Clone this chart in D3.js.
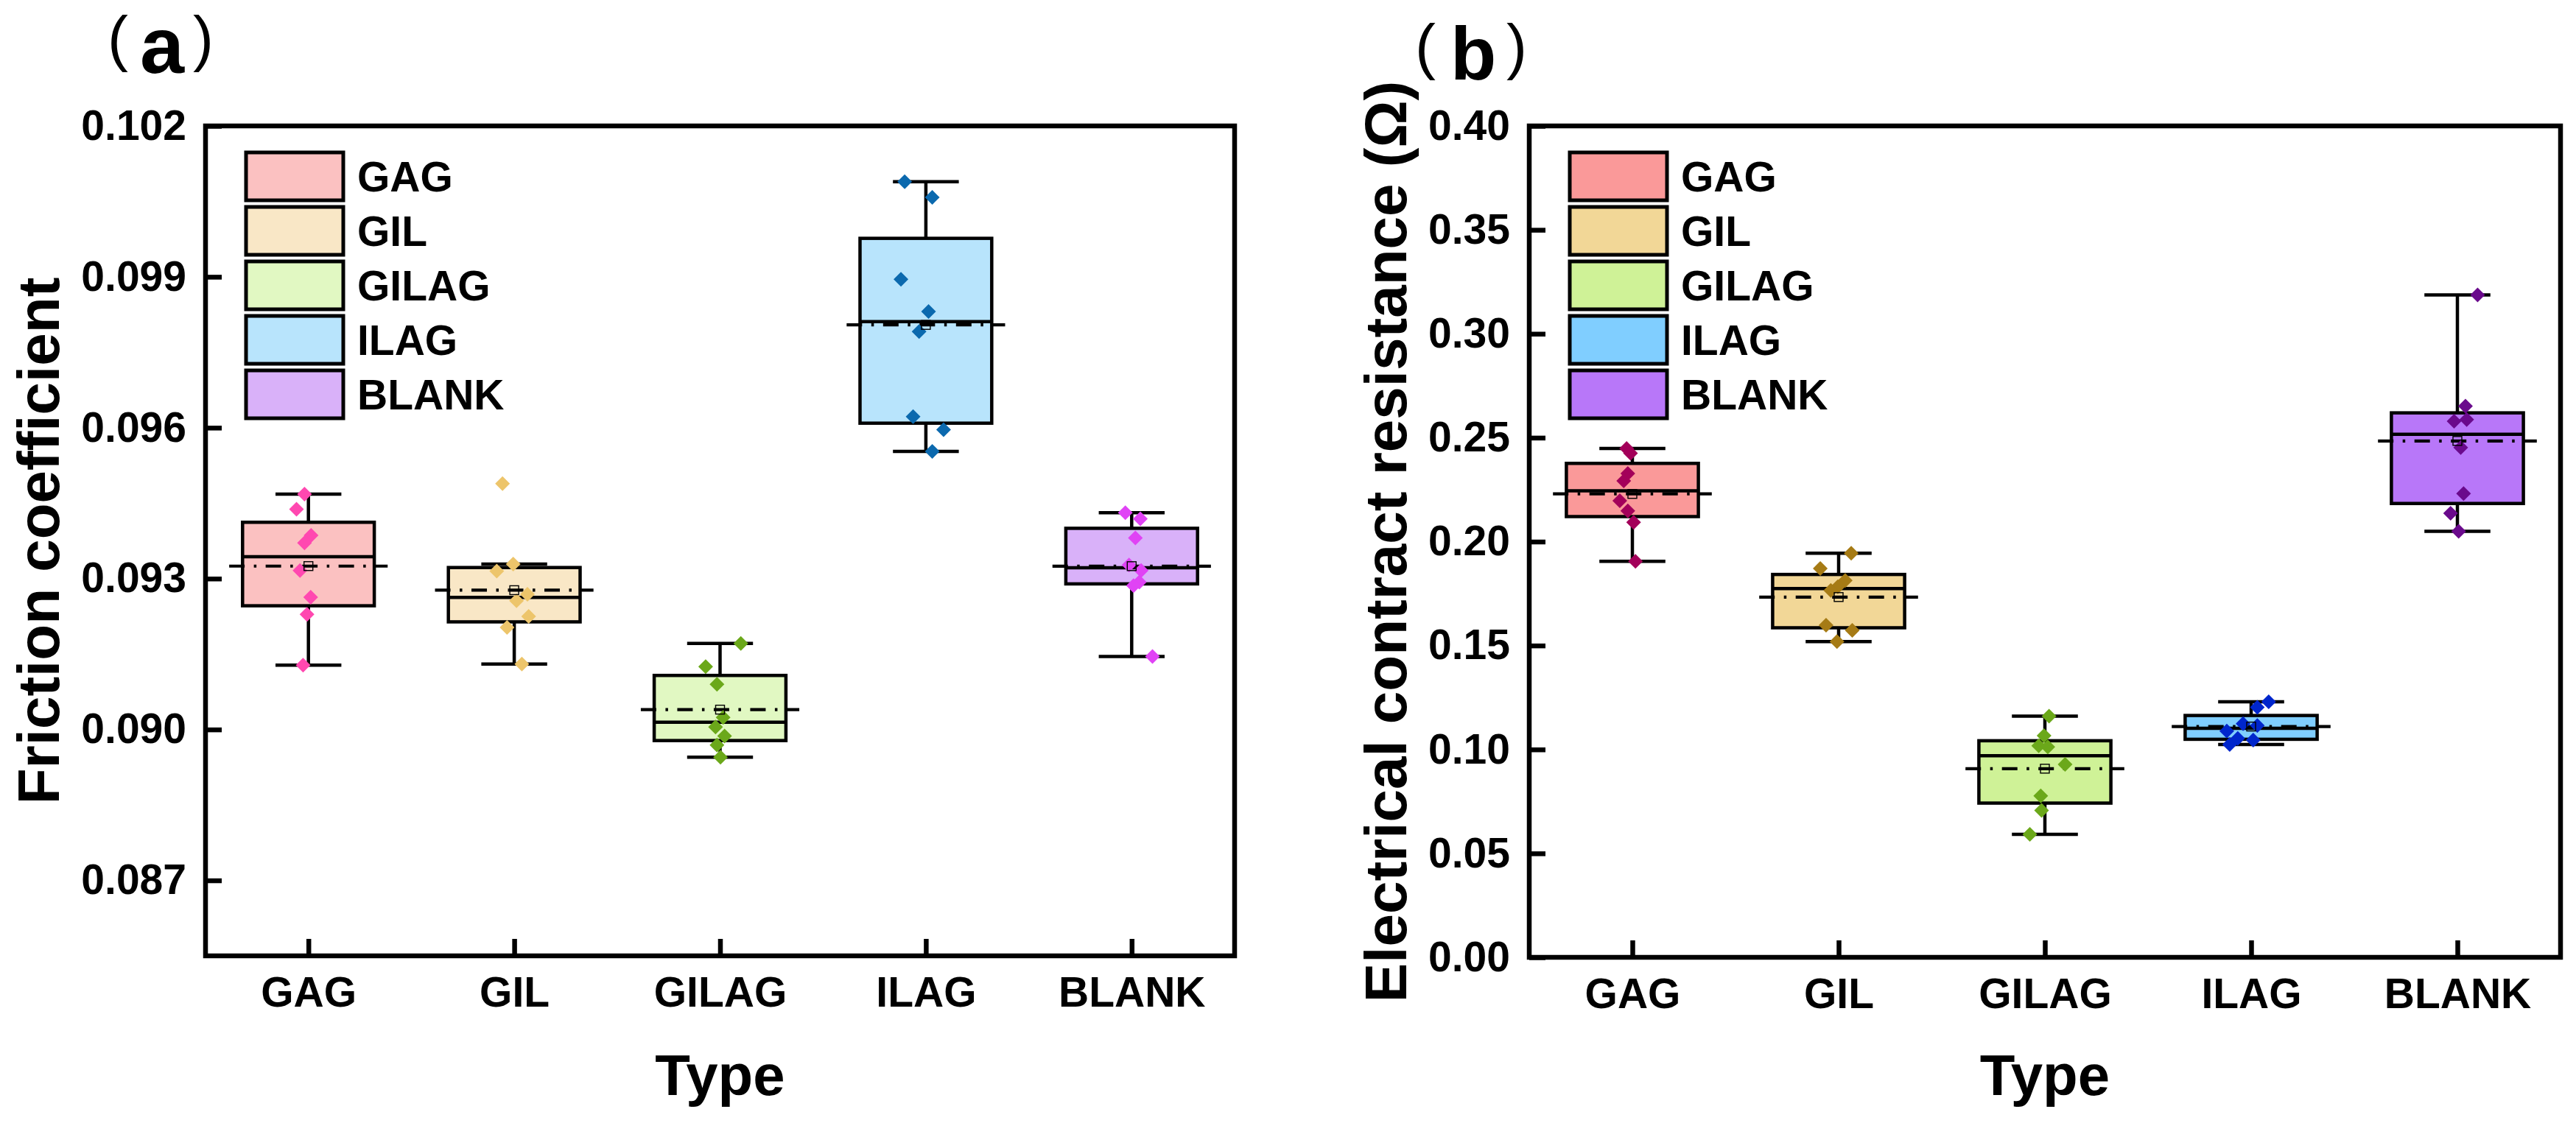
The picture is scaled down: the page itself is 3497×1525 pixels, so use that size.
<!DOCTYPE html>
<html>
<head>
<meta charset="utf-8">
<script src="https://cdn.jsdelivr.net/npm/d3@7"></script>
<style>
  html, body { margin: 0; padding: 0; background: #ffffff; }
  svg { display: block; }
</style>
</head>
<body>
<svg id="chart" width="3497" height="1525"></svg>
<script>
// ---------------- data ----------------
const categories = ["GAG", "GIL", "GILAG", "ILAG", "BLANK"];

// Friction coefficient, 8 measurements per type
const frictionValues = [
  [0.09468, 0.09438, 0.09386, 0.09371, 0.09316, 0.09263, 0.09229, 0.09128],
  [0.09489, 0.09329, 0.09315, 0.09269, 0.09256, 0.09225, 0.09203, 0.09130],
  [0.09171, 0.09125, 0.09090, 0.09024, 0.09005, 0.08987, 0.08969, 0.08945],
  [0.10089, 0.10058, 0.09895, 0.09831, 0.09791, 0.09622, 0.09596, 0.09553],
  [0.09431, 0.09419, 0.09381, 0.09327, 0.09316, 0.09293, 0.09286, 0.09145]
];
// horizontal scatter of each point (in category units)
const frictionJitter = [
  [-0.019, -0.058, 0.013, -0.019, -0.041, 0.011, -0.007, -0.026],
  [-0.057, -0.005, -0.085, 0.064, 0.011, 0.070, -0.035, 0.037],
  [0.101, -0.070, -0.015, 0.015, -0.022, 0.022, -0.015, 0.002],
  [-0.103, 0.031, -0.121, 0.013, -0.033, -0.062, 0.086, 0.031],
  [-0.031, 0.042, 0.018, -0.013, 0.046, 0.037, 0.009, 0.101]
];
const frictionTicks = [0.087, 0.090, 0.093, 0.096, 0.099, 0.102];
const frictionTickLabels = ["0.087", "0.090", "0.093", "0.096", "0.099", "0.102"];
const frictionDomain = [0.0855, 0.102];

// Electrical contact resistance (Ohm)
const resistanceValues = [
  [0.2448, 0.2425, 0.2328, 0.2292, 0.2197, 0.2148, 0.2093, 0.1905],
  [0.1944, 0.1871, 0.1813, 0.1783, 0.1765, 0.1598, 0.1573, 0.1519],
  [0.1160, 0.1066, 0.1018, 0.1012, 0.0928, 0.0777, 0.0707, 0.0592],
  [0.1229, 0.1203, 0.1124, 0.1115, 0.1089, 0.1053, 0.1045, 0.1024],
  [0.3187, 0.2652, 0.2587, 0.2579, 0.2453, 0.2231, 0.2136, 0.2050]
];
const resistanceJitter = [
  [-0.028, -0.009, -0.022, -0.042, -0.061, -0.022, 0.006, 0.015],
  [0.061, -0.089, 0.032, -0.004, -0.038, -0.061, 0.066, -0.008],
  [0.020, -0.004, -0.030, 0.014, 0.098, -0.020, -0.016, -0.073],
  [0.085, 0.030, -0.039, 0.030, -0.118, -0.065, 0.010, -0.104],
  [0.098, 0.039, 0.045, -0.016, 0.016, 0.030, -0.033, 0.006]
];
const resistanceTicks = [0.00, 0.05, 0.10, 0.15, 0.20, 0.25, 0.30, 0.35, 0.40];
const resistanceTickLabels = ["0.00", "0.05", "0.10", "0.15", "0.20", "0.25", "0.30", "0.35", "0.40"];
const resistanceDomain = [0, 0.40];

// colours
const frictionFill  = ["#FBC1C1", "#F9E7C6", "#E1F8C2", "#B8E4FC", "#D9B1F9"];
const frictionPoint = ["#FF48B0", "#EDC56B", "#6BA81A", "#0B69AE", "#E043F5"];
const resistanceFill  = ["#FA9999", "#F2D797", "#CFF297", "#80CEFF", "#B877F9"];
const resistancePoint = ["#A3005A", "#A67B15", "#6BA81A", "#0026CC", "#6A0A8C"];

// ---------------- helpers ----------------
const FONT = "'Liberation Sans', Arial, Helvetica, sans-serif";

function quantileR5(sorted, p) {
  const n = sorted.length;
  let h = n * p + 0.5;
  if (h <= 1) return sorted[0];
  if (h >= n) return sorted[n - 1];
  const lo = Math.floor(h);
  return sorted[lo - 1] + (h - lo) * (sorted[lo] - sorted[lo - 1]);
}
function boxStats(vals) {
  const s = vals.slice().sort((a, b) => a - b);
  const q1 = quantileR5(s, 0.25), med = quantileR5(s, 0.5), q3 = quantileR5(s, 0.75);
  const iqr = q3 - q1;
  const lf = q1 - 1.5 * iqr, uf = q3 + 1.5 * iqr;
  const inside = s.filter(v => v >= lf && v <= uf);
  return { q1, med, q3, lo: d3.min(inside), hi: d3.max(inside), mean: d3.mean(s) };
}

const svg = d3.select("#chart");

function drawPanel(cfg) {
  const g = svg.append("g");
  const x = d3.scalePoint().domain(categories).range([cfg.left, cfg.right]).padding(0.5);
  const step = x.step();
  const y = d3.scaleLinear().domain(cfg.domain).range([cfg.bottom, cfg.top]);

  const boxW = step * 0.64, capW = step * 0.32, meanW = step * 0.77;

  categories.forEach((c, i) => {
    const st = boxStats(cfg.values[i]);
    const cx = x(c);
    const bg = g.append("g");
    // whiskers
    bg.append("line").attr("x1", cx).attr("x2", cx).attr("y1", y(st.q3)).attr("y2", y(st.hi))
      .attr("stroke", "#000").attr("stroke-width", 4.5);
    bg.append("line").attr("x1", cx).attr("x2", cx).attr("y1", y(st.q1)).attr("y2", y(st.lo))
      .attr("stroke", "#000").attr("stroke-width", 4.5);
    bg.append("line").attr("x1", cx - capW / 2).attr("x2", cx + capW / 2).attr("y1", y(st.hi)).attr("y2", y(st.hi))
      .attr("stroke", "#000").attr("stroke-width", 4.5);
    bg.append("line").attr("x1", cx - capW / 2).attr("x2", cx + capW / 2).attr("y1", y(st.lo)).attr("y2", y(st.lo))
      .attr("stroke", "#000").attr("stroke-width", 4.5);
    // box
    bg.append("rect").attr("x", cx - boxW / 2).attr("width", boxW)
      .attr("y", y(st.q3)).attr("height", y(st.q1) - y(st.q3))
      .attr("fill", cfg.fill[i]).attr("stroke", "#000").attr("stroke-width", 4.5);
    // median
    bg.append("line").attr("x1", cx - boxW / 2).attr("x2", cx + boxW / 2).attr("y1", y(st.med)).attr("y2", y(st.med))
      .attr("stroke", "#000").attr("stroke-width", 4.5);
    // mean line (dash dot)
    bg.append("line").attr("x1", cx - meanW / 2).attr("x2", cx + meanW / 2).attr("y1", y(st.mean)).attr("y2", y(st.mean))
      .attr("stroke", "#000").attr("stroke-width", 4.2).attr("stroke-dasharray", "21 12.5 3.5 12.5");
    // points
    bg.selectAll("path.pt").data(cfg.values[i]).enter().append("path")
      .attr("class", "pt")
      .attr("transform", (v, j) => `translate(${cx + cfg.jitter[i][j] * step},${y(v)})`)
      .attr("d", "M0,-10L10,0L0,10L-10,0Z")
      .attr("fill", cfg.point[i]);
    // mean marker
    bg.append("rect").attr("x", cx - 6).attr("y", y(st.mean) - 6).attr("width", 12).attr("height", 12)
      .attr("fill", "none").attr("stroke", "#000").attr("stroke-width", 1.4);
  });

  // axes
  const yAxis = d3.axisLeft(y).tickValues(cfg.ticks).tickFormat((d, i) => cfg.tickLabels[i])
    .tickSizeInner(-22).tickSizeOuter(0).tickPadding(26);
  const ya = g.append("g").attr("transform", `translate(${cfg.left},0)`).call(yAxis);
  const xAxis = d3.axisBottom(x).tickSizeInner(-23).tickSizeOuter(0).tickPadding(29);
  const xa = g.append("g").attr("transform", `translate(0,${cfg.bottom})`).call(xAxis);
  [ya, xa].forEach(a => {
    a.select(".domain").remove();
    a.selectAll(".tick line").attr("stroke", "#000").attr("stroke-width", 6.5);
    a.selectAll(".tick text").attr("fill", "#000").style("font-family", FONT)
      .style("font-weight", "bold").style("font-size", "57px");
  });

  // frame
  g.append("rect").attr("x", cfg.left).attr("y", cfg.top)
    .attr("width", cfg.right - cfg.left).attr("height", cfg.bottom - cfg.top)
    .attr("fill", "none").attr("stroke", "#000").attr("stroke-width", 6.5);

  // legend
  const lg = g.append("g");
  categories.forEach((c, i) => {
    const ly = cfg.top + 36 + i * 74;
    lg.append("rect").attr("x", cfg.left + 55).attr("y", ly).attr("width", 132).attr("height", 65)
      .attr("fill", cfg.fill[i]).attr("stroke", "#000").attr("stroke-width", 5);
    lg.append("text").attr("x", cfg.left + 206).attr("y", ly + 53)
      .style("font-family", FONT).style("font-weight", "bold").style("font-size", "57px")
      .text(c);
  });

  // axis titles
  g.append("text").attr("x", (cfg.left + cfg.right) / 2).attr("y", 1487)
    .attr("text-anchor", "middle").style("font-family", FONT).style("font-weight", "bold")
    .style("font-size", "78px").text("Type");
  g.append("text").attr("transform", `translate(${cfg.titleX},${(cfg.top + cfg.bottom) / 2}) rotate(-90)`)
    .attr("text-anchor", "middle").style("font-family", FONT).style("font-weight", "bold")
    .style("font-size", "80px").text(cfg.yTitle);

  // panel label
  const pl = g.append("g");
  pl.append("text").attr("x", cfg.lab.p1).attr("y", cfg.lab.py).attr("text-anchor", "middle")
    .style("font-family", FONT).style("font-size", "84px").style("font-weight", "normal").text("(");
  pl.append("text").attr("x", cfg.lab.lx).attr("y", cfg.lab.ly)
    .style("font-family", FONT).style("font-size", cfg.lab.size + "px").style("font-weight", "bold").text(cfg.lab.t);
  pl.append("text").attr("x", cfg.lab.p2).attr("y", cfg.lab.py).attr("text-anchor", "middle")
    .style("font-family", FONT).style("font-size", "84px").style("font-weight", "normal").text(")");
}

drawPanel({
  left: 279, right: 1676, top: 171, bottom: 1298,
  domain: frictionDomain, ticks: frictionTicks, tickLabels: frictionTickLabels,
  values: frictionValues, jitter: frictionJitter,
  fill: frictionFill, point: frictionPoint,
  yTitle: "Friction coefficient", titleX: 80,
  lab: { p1: 160, p2: 276, py: 81, lx: 190, ly: 99, t: "a", size: 108 }
});

drawPanel({
  left: 2076, right: 3476, top: 171, bottom: 1300,
  domain: resistanceDomain, ticks: resistanceTicks, tickLabels: resistanceTickLabels,
  values: resistanceValues, jitter: resistanceJitter,
  fill: resistanceFill, point: resistancePoint,
  yTitle: "Electrical contract resistance (\u03A9)", titleX: 1909,
  lab: { p1: 1935, p2: 2059, py: 92, lx: 1969, ly: 108, t: "b", size: 102 }
});
</script>
</body>
</html>
